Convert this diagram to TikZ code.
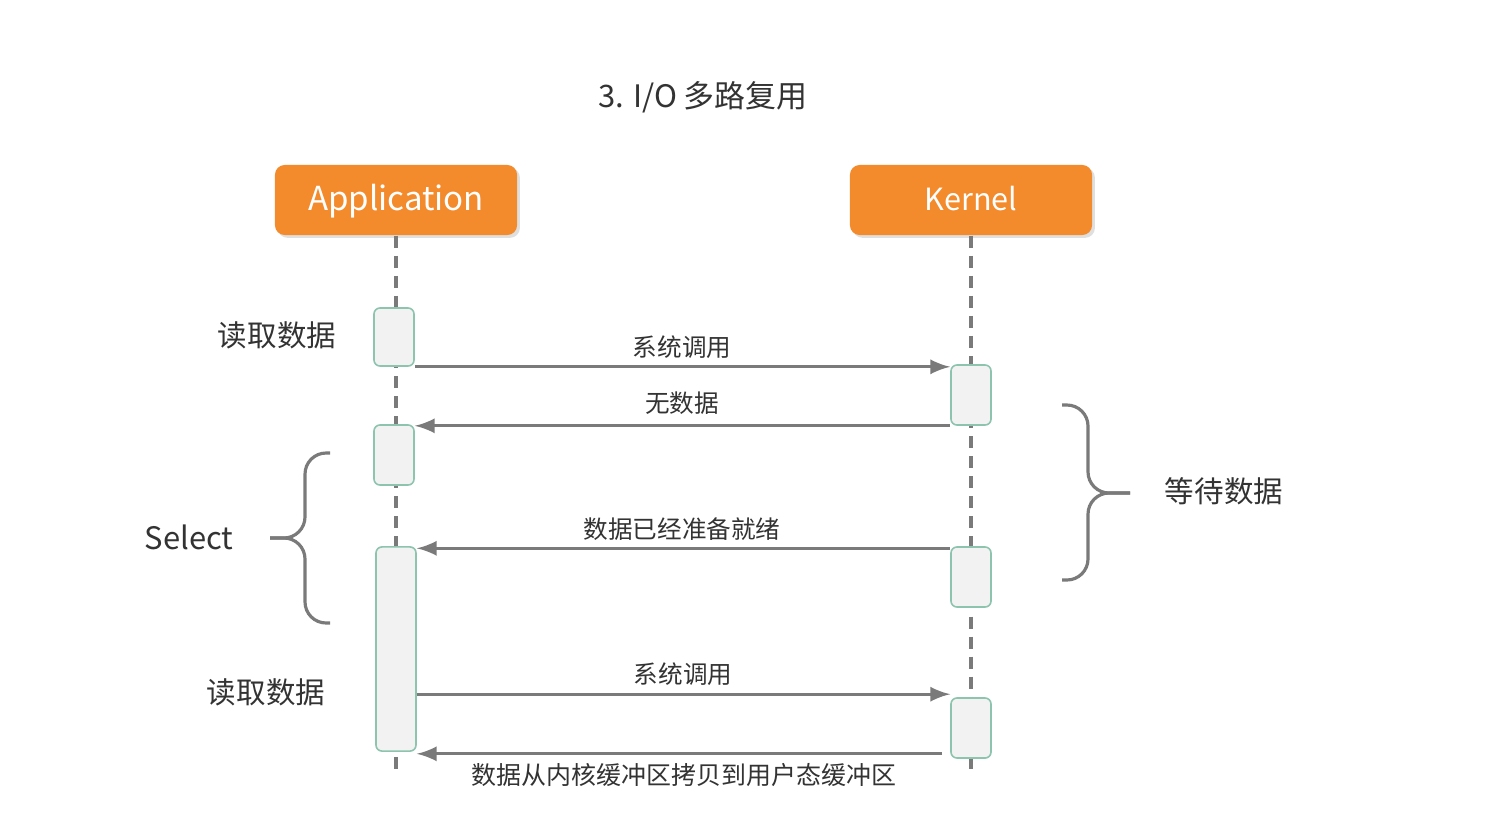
\documentclass[tikz,border=0pt]{standalone}
\usepackage{fontspec}
\setmainfont{Noto Sans CJK SC}
\usepackage{xcolor}
\usepackage{tikz}
\usetikzlibrary{calc, shadows}

\definecolor{hdorange}{HTML}{F38A2B}
\definecolor{actfill}{HTML}{F2F2F2}
\definecolor{actdraw}{HTML}{8CC4AE}
\definecolor{msggray}{HTML}{7A7A7A}
\definecolor{txtgray}{HTML}{333333}

\tikzset{
  header/.style={%
    rectangle, rounded corners=2.8pt,
    fill=hdorange, text=white,
    minimum width=2.42cm, minimum height=0.70cm,
    text height=0.72em, text depth=0.12em,
    font=\fontsize{9.4}{11}\selectfont,
    drop shadow={shadow xshift=0.8pt, shadow yshift=-0.8pt, opacity=0.25},
  },
  act/.style={%
    rectangle, rounded corners=1.7pt,
    draw=actdraw, line width=0.45pt, fill=actfill,
    minimum width=0.40cm, inner sep=0pt,
  },
  lifeline/.style={msggray, line width=0.9pt, dash pattern=on 3.4pt off 2.3pt},
  msg/.style={msggray, line width=0.95pt, ->, >=latex},
  msglbl/.style={text=txtgray, font=\fontsize{7}{8}\selectfont, inner sep=0pt},
  sidelbl/.style={text=txtgray, font=\fontsize{8.4}{10}\selectfont, inner sep=0pt},
  bracepath/.style={msggray, line width=0.9pt, rounded corners=6pt},
}

\begin{document}
\begin{tikzpicture}[x=0.01cm, y=-0.01cm]
  \fill[white] (0,0) rectangle (1486,824);
  \useasboundingbox (0,0) rectangle (1486,824);

% title and headers
  \node[text=txtgray, font=\fontsize{8.8}{10}\selectfont] (title) at (703,97) {3. I/O 多路复用};
  \node[header] (app) at (396,200) {Application};
  \node[header, font=\fontsize{8.7}{10}\selectfont] (kern) at (971,200) {Kernel};

% lifelines
  \coordinate (appEnd) at (396,770);
  \coordinate (kernEnd) at (971,770);
  \draw[lifeline] (app.south) -- (appEnd);
  \draw[lifeline] (kern.south) -- (kernEnd);

% activations
  \node[act, minimum height=0.58cm] (a1) at (394,337) {};
  \node[act, minimum height=0.60cm] (a2) at (394,455) {};
  \node[act, minimum height=2.04cm] (a3) at (396,649) {};
  \node[act, minimum height=0.60cm] (k1) at (971,395) {};
  \node[act, minimum height=0.60cm] (k2) at (971,577) {};
  \node[act, minimum height=0.60cm] (k3) at (971,728) {};

% messages
  \draw[msg] (a1.south east) -- (a1.south east -| k1.west);
  \node[msglbl] (m1) at (682,347) {系统调用};
  \draw[msg] (k1.south west) -- (k1.south west -| a2.east);
  \node[msglbl] (m2) at (682,403) {无数据};
  \draw[msg] ([yshift=-0.6pt]k2.north west) -- ([yshift=-0.6pt]k2.north west -| a3.east);
  \node[msglbl] (m3) at (682,529) {数据已经准备就绪};
  \coordinate (c4) at ($(k3.north west)+(0,-3)$);
  \draw[msg] (c4 -| a3.east) -- (c4);
  \node[msglbl] (m4) at (683,674) {系统调用};
  \coordinate (c5) at ($(k3.south west)+(-8,-5)$);
  \draw[msg] (c5) -- (c5 -| a3.east);
  \node[msglbl, font=\fontsize{7.1}{8}\selectfont] (m5) at (684,775) {数据从内核缓冲区拷贝到用户态缓冲区};

% side labels
  \node[sidelbl] (r1) at (277,335) {读取数据};
  \node[sidelbl] (r2) at (266,692) {读取数据};
  \node[sidelbl, font=\fontsize{8.8}{10}\selectfont] (sel) at (189,537) {Select};
  \node[sidelbl] (wait) at (1224,491) {等待数据};

% braces
  \draw[bracepath] (330,453) -| (305,538) -- (270,538);
  \draw[bracepath] (330,623) -| (305,538) -- (270,538);
  \draw[bracepath] (1062,405) -| (1088,493) -- (1130,493);
  \draw[bracepath] (1062,580) -| (1088,493) -- (1130,493);
\end{tikzpicture}
\end{document}
